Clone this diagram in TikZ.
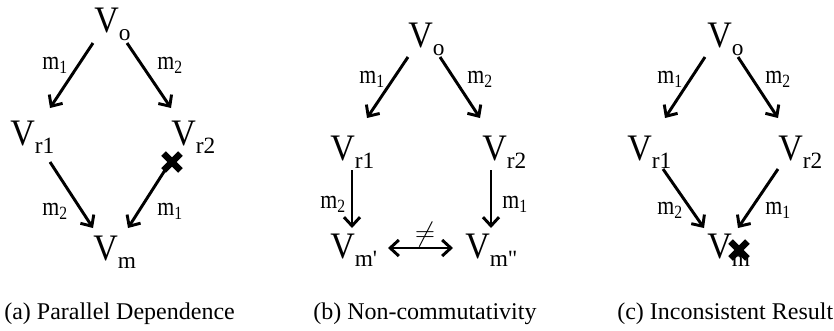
\documentclass[tikz,border=0pt]{standalone}
\usepackage{fontspec}
\setmainfont{Liberation Serif}
\newfontfamily\plainserif{Liberation Serif}
\usetikzlibrary{arrows.meta}
\newcommand\myVsub[1]{\raisebox{-6.5pt}{\fontsize{17.5}{19}\selectfont #1}}
\newcommand\myLsub[1]{\raisebox{-3.5pt}{\fontsize{14}{15}\selectfont #1}}
\newcommand\myV[1]{\scalebox{1}[1.1]{V}\myVsub{#1}}
\newcommand\myL[1]{\scalebox{0.84}[1]{m\myLsub{#1}}}
\tikzset{
  vn/.style={inner sep=0pt, anchor=base west, font=\fontsize{25.5}{28}\selectfont},
  lab/.style={inner sep=0pt, anchor=base west, font=\fontsize{19.5}{22}\selectfont},
  captext/.style={inner sep=0pt, anchor=base west, font=\fontsize{18}{20}\selectfont},
  arr/.style={line width=2.2pt, -{Straight Barb[length=6.5pt,width=12pt,line width=2.2pt]}},
  darr/.style={line width=2.2pt, {Straight Barb[length=6.5pt,width=12pt,line width=2.2pt]}-{Straight Barb[length=6.5pt,width=12pt,line width=2.2pt]}},
  xmark/.style={line width=5pt, line cap=butt}
}
\begin{document}
\begin{tikzpicture}[x=0.75pt,y=-0.75pt]
\useasboundingbox (0,0) rectangle (834,330);
% ---------- (a) ----------
\node[vn] (aVo)  at (94,32)  {\myV{o}};
\node[vn] (aVr1) at (10,145) {\myV{r1}};
\node[vn] (aVr2) at (171,145) {\myV{r2}};
\node[vn] (aVm)  at (93,260) {\myV{m}};
\node[lab] (al1) at (42,69)  {\myL{1}};
\node[lab] (al2) at (157,69) {\myL{2}};
\node[lab] (al3) at (42,215) {\myL{2}};
\node[lab] (al4) at (157,215) {\myL{1}};
\coordinate (a1s) at (93,43);  \coordinate (a1e) at (50,108);
\coordinate (a2s) at (127,43); \coordinate (a2e) at (171,108);
\coordinate (a3s) at (50,162); \coordinate (a3e) at (93,228);
\coordinate (a4s) at (167,167); \coordinate (a4e) at (128,228);
\draw[arr] (a1s) -- (a1e);
\draw[arr] (a2s) -- (a2e);
\draw[arr] (a3s) -- (a3e);
\draw[arr] (a4s) -- (a4e);
\coordinate (ax) at (172,162);
\draw[xmark] (ax) +(-8.4,-8.4) -- +(8.4,8.4);
\draw[xmark] (ax) +(-8.4,8.4) -- +(8.4,-8.4);
\node[captext] (acap) at (4,319) {(a) Parallel Dependence};
% ---------- (b) ----------
\node[vn] (bVo)  at (408,47)  {\myV{o}};
\node[vn] (bVr1) at (330,160) {\myV{r1}};
\node[vn] (bVr2) at (482,160) {\myV{r2}};
\node[vn] (bVm1) at (330,258) {\myV{m{\plainserif '}}};
\node[vn] (bVm2) at (465,258) {\myV{m{\plainserif "}}};
\node[lab] (bl1) at (359,83)  {\myL{1}};
\node[lab] (bl2) at (467,83)  {\myL{2}};
\node[lab] (bl3) at (320,208) {\myL{2}};
\node[lab] (bl4) at (502,208) {\myL{1}};
\coordinate (b1s) at (408,57);  \coordinate (b1e) at (367,118);
\coordinate (b2s) at (440,57);  \coordinate (b2e) at (480,118);
\coordinate (b3s) at (352,170); \coordinate (b3e) at (352,228);
\coordinate (b4s) at (491,170); \coordinate (b4e) at (491,228);
\coordinate (b5s) at (388,248); \coordinate (b5e) at (453,248);
\draw[arr] (b1s) -- (b1e);
\draw[arr] (b2s) -- (b2e);
\draw[arr] (b3s) -- (b3e);
\draw[arr] (b4s) -- (b4e);
\draw[darr] (b5s) -- (b5e);
\node[inner sep=0pt, font=\fontsize{21}{24}\selectfont] (bne) at (425,235) {$\neq$};
\node[captext] (bcap) at (313,319) {(b) Non-commutativity};
% ---------- (c) ----------
\node[vn] (cVo)  at (707,47)  {\myV{o}};
\node[vn] (cVr1) at (627,160) {\myV{r1}};
\node[vn] (cVr2) at (778,160) {\myV{r2}};
\node[vn] (cVm)  at (707,258) {\myV{m}};
\node[lab] (cl1) at (657,83)  {\myL{1}};
\node[lab] (cl2) at (765,83)  {\myL{2}};
\node[lab] (cl3) at (657,214) {\myL{2}};
\node[lab] (cl4) at (765,214) {\myL{1}};
\coordinate (c1s) at (705,57);  \coordinate (c1e) at (665,118);
\coordinate (c2s) at (738,57);  \coordinate (c2e) at (778,118);
\coordinate (c3s) at (663,169); \coordinate (c3e) at (704,228);
\coordinate (c4s) at (778,169); \coordinate (c4e) at (738,228);
\draw[arr] (c1s) -- (c1e);
\draw[arr] (c2s) -- (c2e);
\draw[arr] (c3s) -- (c3e);
\draw[arr] (c4s) -- (c4e);
\coordinate (cx) at (739,250);
\draw[xmark] (cx) +(-8.4,-8.4) -- +(8.4,8.4);
\draw[xmark] (cx) +(-8.4,8.4) -- +(8.4,-8.4);
\node[captext] (ccap) at (617,319) {(c) Inconsistent Result};
\end{tikzpicture}
\end{document}
